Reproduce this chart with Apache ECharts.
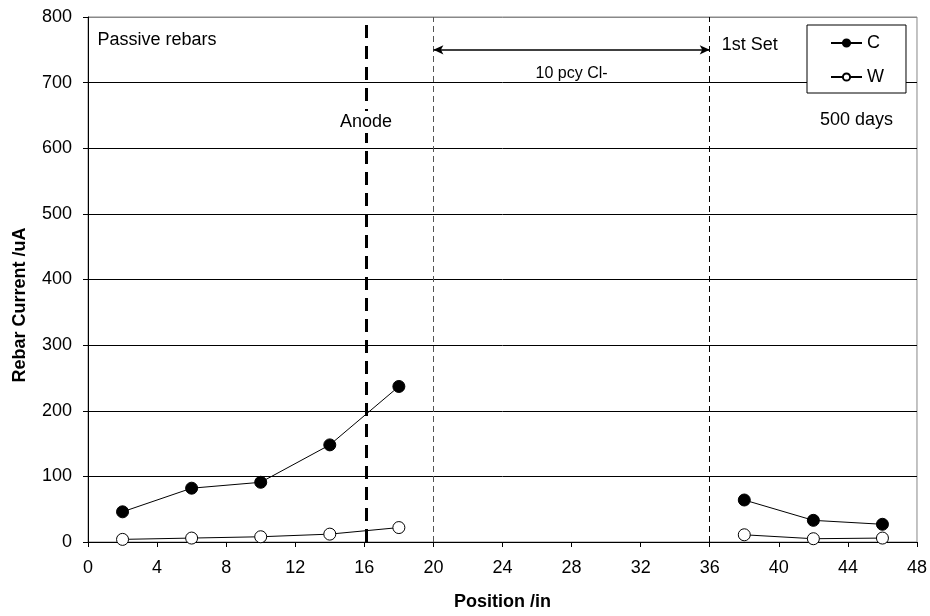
<!DOCTYPE html>
<html><head><meta charset="utf-8">
<script src="https://cdn.jsdelivr.net/npm/echarts@6/dist/echarts.min.js"></script>
<style>html,body{margin:0;padding:0;background:#fff}#c{width:930px;height:616px}</style>
</head><body><div id="c"></div>
<script>
// Data
var positionsLeft = [2, 6, 10, 14, 18];
var positionsRight = [38, 42, 46];
var currentC_left = [46, 82, 91, 148, 237];
var currentC_right = [64, 33, 27];
var currentW_left = [4, 6, 8, 12, 22];
var currentW_right = [11, 5, 6];
var xTicks = [0, 4, 8, 12, 16, 20, 24, 28, 32, 36, 40, 44, 48];
var yTicks = [0, 100, 200, 300, 400, 500, 600, 700, 800];
var anodePos = 16.1;
var chlorideZone = [20, 36];

function buildSeries(xl, yl, xr, yr) {
  var d = [];
  for (var i = 0; i < xl.length; i++) d.push([xl[i], yl[i]]);
  d.push([(xl[xl.length - 1] + xr[0]) / 2, null]);
  for (var j = 0; j < xr.length; j++) d.push([xr[j], yr[j]]);
  return d;
}

var font = 'Liberation Sans, Arial, sans-serif';
var chart = echarts.init(document.getElementById('c'));
var splitColors = yTicks.map(function (v, i) { return i === yTicks.length - 1 ? '#888' : '#000'; });

var option = {
  animation: false,
  backgroundColor: '#fff',
  textStyle: { fontFamily: font },
  grid: { left: 88, right: 13, top: 17, bottom: 73, show: true, borderColor: '#888', borderWidth: 1 },
  legend: {
    orient: 'vertical', left: 807, top: 25,
    padding: [9, 22, 7, 23], itemGap: 16, itemWidth: 31, itemHeight: 9,
    borderColor: '#000', borderWidth: 1, backgroundColor: '#fff',
    textStyle: { fontFamily: font, fontSize: 18, color: '#000' },
    data: ['C', 'W']
  },
  xAxis: {
    type: 'value', min: 0, max: 48, interval: 4,
    name: 'Position /in', nameLocation: 'middle', nameGap: 51,
    nameTextStyle: { fontFamily: font, fontSize: 18, fontWeight: 'bold', color: '#000' },
    axisLine: { lineStyle: { color: '#000', width: 1 } },
    axisTick: { show: true, inside: false, length: 5, lineStyle: { color: '#000' } },
    axisLabel: { fontFamily: font, fontSize: 18, color: '#000', margin: 17 },
    splitLine: { show: false }
  },
  yAxis: {
    type: 'value', min: 0, max: 800, interval: 100,
    axisLine: { show: true, lineStyle: { color: '#000', width: 1 } },
    axisTick: { show: true, inside: false, length: 5, lineStyle: { color: '#000' } },
    axisLabel: { fontFamily: font, fontSize: 18, color: '#000', margin: 16 },
    splitLine: { show: true, lineStyle: { color: splitColors, width: 1 } }
  },
  series: [
    {
      name: 'C', type: 'line', data: buildSeries(positionsLeft, currentC_left, positionsRight, currentC_right),
      connectNulls: false, symbol: 'circle', symbolSize: 12,
      itemStyle: { color: '#000', borderColor: '#000', borderWidth: 1 },
      lineStyle: { color: '#000', width: 1 }, z: 5,
      markLine: {
        silent: true, symbol: 'none', label: { show: false }, animation: false,
        data: [
          [{ coord: [anodePos, 0], lineStyle: { type: [13, 8], width: 3, color: '#000' } }, { coord: [anodePos, 793] }],
          [{ coord: [chlorideZone[0], 0], lineStyle: { type: [6, 4], width: 1, color: '#555' } }, { coord: [chlorideZone[0], 800] }],
          [{ coord: [chlorideZone[1], 0], lineStyle: { type: [6, 4], width: 1, color: '#000' } }, { coord: [chlorideZone[1], 800] }],
          [{ coord: [chlorideZone[0], 750], symbol: 'arrow', symbolSize: [7, 10], lineStyle: { type: 'solid', width: 1.5, color: '#000' } },
           { coord: [chlorideZone[1], 750], symbol: 'arrow', symbolSize: [7, 10] }]
        ]
      }
    },
    {
      name: 'W', type: 'line', data: buildSeries(positionsLeft, currentW_left, positionsRight, currentW_right),
      connectNulls: false, symbol: 'circle', symbolSize: 12,
      itemStyle: { color: '#fff', borderColor: '#000', borderWidth: 1 },
      lineStyle: { color: '#000', width: 1 }, z: 4
    }
  ]
};
chart.setOption(option);

function px(x, y) { return chart.convertToPixel({ gridIndex: 0 }, [x, y]); }
var annotations = [
  { text: 'Passive rebars', x: 0.55, y: 765, align: 'left', size: 18, bg: null },
  { text: 'Anode', x: anodePos, y: 640, align: 'center', size: 18, bg: '#fff' },
  { text: '10 pcy Cl-', x: (chlorideZone[0] + chlorideZone[1]) / 2, y: 714, align: 'center', size: 16, bg: null },
  { text: '1st Set', x: 36.7, y: 758, align: 'left', size: 18, bg: null },
  { text: '500 days', x: 44.5, y: 643, align: 'center', size: 18, bg: null }
];
var graphics = annotations.map(function (a) {
  var p = px(a.x, a.y);
  var st = { text: a.text, fill: '#000', font: a.size + 'px ' + font, textAlign: a.align, textVerticalAlign: 'middle' };
  if (a.bg) { st.backgroundColor = a.bg; st.padding = [2, 2]; }
  return { type: 'text', x: p[0], y: p[1], z: 10, style: st };
});
graphics.push({
  type: 'text', x: 20, y: 305, rotation: Math.PI / 2, z: 10,
  style: { text: 'Rebar Current /uA', fill: '#000', font: 'bold 18px ' + font, textAlign: 'center', textVerticalAlign: 'middle' }
});
chart.setOption({ graphic: graphics });
</script></body></html>
